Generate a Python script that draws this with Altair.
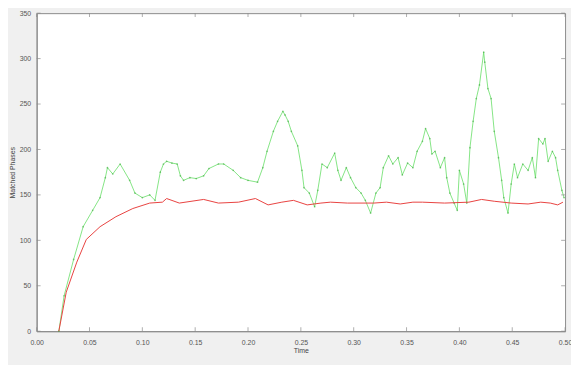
import altair as alt
import pandas as pd

# Green series (noisy)
green_t = [0.021, 0.026, 0.035, 0.044, 0.053, 0.060, 0.065, 0.067, 0.072, 0.079,
           0.088, 0.093, 0.100, 0.107, 0.112, 0.117, 0.120, 0.123, 0.128, 0.133,
           0.136, 0.139, 0.145, 0.151, 0.158, 0.163, 0.172, 0.177, 0.186, 0.193,
           0.200, 0.209, 0.214, 0.218, 0.224, 0.228, 0.233, 0.235, 0.238, 0.241,
           0.247, 0.251, 0.253, 0.258, 0.263, 0.266, 0.270, 0.275, 0.282, 0.285,
           0.288, 0.293, 0.297, 0.302, 0.307, 0.311, 0.316, 0.321, 0.325, 0.328,
           0.333, 0.337, 0.342, 0.346, 0.351, 0.356, 0.360, 0.365, 0.368, 0.372,
           0.374, 0.377, 0.382, 0.386, 0.388, 0.391, 0.395, 0.398, 0.400, 0.404,
           0.407, 0.410, 0.413, 0.416, 0.419, 0.423, 0.424, 0.427, 0.430, 0.433,
           0.437, 0.440, 0.442, 0.446, 0.449, 0.452, 0.455, 0.460, 0.465, 0.469,
           0.472, 0.475, 0.479, 0.481, 0.484, 0.488, 0.491, 0.493, 0.497, 0.499]
green_v = [0, 39, 79, 115, 133, 147, 169, 180, 173, 184,
           166, 152, 147, 150, 144, 175, 184, 187, 185, 184,
           171, 166, 169, 168, 171, 179, 184, 184, 177, 169,
           166, 164, 180, 198, 220, 231, 242, 238, 231, 220,
           204, 177, 158, 152, 137, 155, 184, 180, 196, 177,
           166, 180, 169, 158, 152, 144, 130, 152, 158, 180,
           193, 184, 191, 172, 185, 180, 198, 209, 223, 212,
           195, 198, 180, 191, 169, 152, 141, 133, 177, 162,
           141, 202, 231, 256, 271, 307, 296, 267, 256, 220,
           191, 166, 147, 130, 162, 184, 169, 184, 177, 191,
           169, 212, 206, 212, 187, 198, 191, 177, 155, 147]

# Red series (smooth)
red_t = [0.021, 0.028, 0.038, 0.047, 0.060, 0.075, 0.091, 0.107, 0.119, 0.123,
         0.135, 0.158, 0.172, 0.191, 0.207, 0.219, 0.232, 0.243, 0.256, 0.269,
         0.278, 0.294, 0.319, 0.331, 0.344, 0.356, 0.365, 0.386, 0.409, 0.421,
         0.433, 0.449, 0.465, 0.477, 0.486, 0.493, 0.498]
red_v = [0, 43, 76, 101, 115, 126, 135, 141, 142, 146,
         141, 145, 141, 142, 146, 139, 142, 144, 139, 141,
         142, 141, 141, 142, 140, 142, 142, 141, 142, 145,
         143, 141, 140, 142, 141, 139, 142]

x_ticks = [0, 0.05, 0.1, 0.15, 0.2, 0.25, 0.3, 0.35, 0.4, 0.45, 0.5]
y_ticks = [0, 50, 100, 150, 200, 250, 300, 350]

W, H = 535, 322

green_df = pd.DataFrame({"t": green_t, "v": green_v})
red_df = pd.DataFrame({"t": red_t, "v": red_v})
xt_df = pd.DataFrame({"t": x_ticks})
yt_df = pd.DataFrame({"v": y_ticks})

xscale = alt.Scale(domain=[0, 0.5], nice=False, zero=False)
yscale = alt.Scale(domain=[0, 350], nice=False)

xaxis = alt.Axis(values=x_ticks, title="Time", tickSize=0, labelFontSize=7,
                 labelColor="#555", titleFontSize=7, titleColor="#444",
                 titleFontWeight="normal", domainColor="#8a8a8a", grid=False,
                 labelPadding=7, titlePadding=2, labelFont="Liberation Sans",
                 titleFont="Liberation Sans", labelFlush=False)
yaxis = alt.Axis(values=y_ticks, title="Matched Phases", tickSize=0, labelFontSize=7,
                 labelColor="#555", titleFontSize=7, titleColor="#444",
                 titleFontWeight="normal", domainColor="#8a8a8a", grid=False,
                 labelPadding=6, titlePadding=4, labelFont="Liberation Sans",
                 titleFont="Liberation Sans", labelFlush=False)

red = alt.Chart(red_df).mark_line(color="#e8413f", strokeWidth=1).encode(
    x=alt.X("t:Q", scale=xscale, axis=xaxis),
    y=alt.Y("v:Q", scale=yscale, axis=yaxis),
)
green = alt.Chart(green_df).mark_line(color="#66de66", strokeWidth=0.8).encode(
    x=alt.X("t:Q", scale=xscale),
    y=alt.Y("v:Q", scale=yscale),
)
green_pts = alt.Chart(green_df).mark_point(shape="circle", size=3, filled=True,
                                           color="#3aa83a", opacity=0.6).encode(
    x=alt.X("t:Q", scale=xscale),
    y=alt.Y("v:Q", scale=yscale),
)

tick_style = dict(color="#8a8a8a", thickness=1, size=4)
xt_bottom = alt.Chart(xt_df).mark_tick(orient="vertical", **tick_style).encode(
    x=alt.X("t:Q", scale=xscale), y=alt.value(H - 2))
xt_top = alt.Chart(xt_df).mark_tick(orient="vertical", **tick_style).encode(
    x=alt.X("t:Q", scale=xscale), y=alt.value(2))
yt_left = alt.Chart(yt_df).mark_tick(orient="horizontal", **tick_style).encode(
    y=alt.Y("v:Q", scale=yscale), x=alt.value(2))
yt_right = alt.Chart(yt_df).mark_tick(orient="horizontal", **tick_style).encode(
    y=alt.Y("v:Q", scale=yscale), x=alt.value(W - 2))

chart = alt.layer(green, green_pts, red, xt_bottom, xt_top, yt_left, yt_right).properties(
    width=W, height=H,
    autosize=alt.AutoSizeParams(type="none"),
    padding={"left": 29, "top": 3, "right": 6, "bottom": 32},
    background="#f0f0f0",
).configure_view(fill="white", stroke="#8a8a8a", strokeWidth=1)

chart.save("out.html", embed_options={"renderer": "svg", "actions": False})
